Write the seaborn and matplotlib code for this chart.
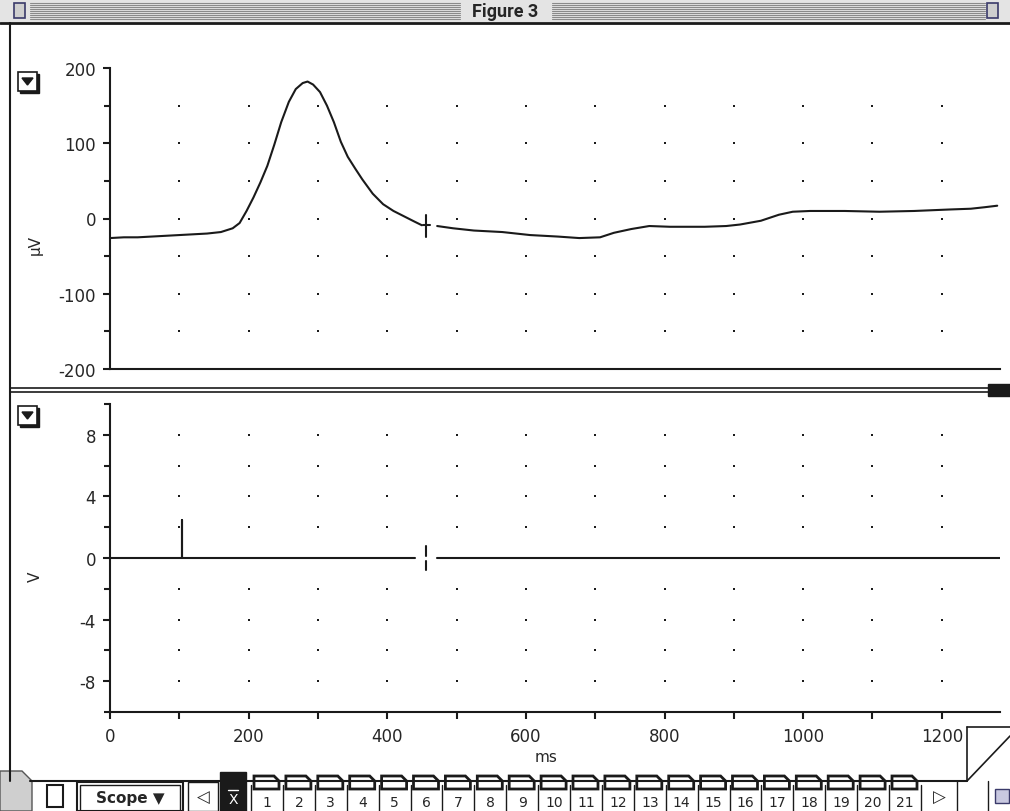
import numpy as np
import pandas as pd
import matplotlib
matplotlib.use("Agg")
import matplotlib.pyplot as plt
import seaborn as sns
from matplotlib.patches import Rectangle, Polygon

# Trace 1: evoked potential (ms, uV); segment 2 starts after the cursor gap
top_ms_1 = [0, 20, 40, 60, 80, 100, 120, 140, 160, 177, 187, 197, 207, 217, 227,
            237, 247, 258, 268, 278, 285, 293, 303, 313, 323, 333, 343, 354, 364,
            379, 394, 409, 424, 439, 450]
top_uv_1 = [-26, -25, -25, -24, -23, -22, -21, -20, -18, -13, -6, 10, 28, 48, 70,
            98, 128, 155, 172, 180, 182, 178, 168, 150, 128, 102, 82, 66, 52,
            33, 19, 10, 3, -4, -9]
top_ms_2 = [472, 495, 525, 566, 606, 646, 677, 707, 727, 752, 778, 808, 858, 889,
            909, 939, 965, 985, 1010, 1060, 1110, 1160, 1212, 1242, 1262, 1280]
top_uv_2 = [-10, -13, -16, -18, -22, -24, -26, -25, -19, -14, -10, -11, -11, -10,
            -8, -3, 5, 9, 10, 10, 9, 10, 12, 13, 15, 17]

# Trace 2: stimulus channel (ms, V)
bot_ms_1 = [0, 104, 104, 104, 440]
bot_v_1 = [0, 0, 2.5, 0, 0]
bot_ms_2 = [472, 1284]
bot_v_2 = [0, 0]

cursor_ms = 456
x_max = 1284
top_yticks = [-200, -100, 0, 100, 200]
bot_yticks = [-8, -4, 0, 4, 8]
x_ticks = [0, 200, 400, 600, 800, 1000, 1200]
tab_labels = [str(i) for i in range(1, 22)]

sns.set_theme(style="ticks")
plt.rcParams['font.family'] = ['DejaVu Sans']
plt.rcParams['axes.unicode_minus'] = False

W, H = 1010, 812
fig = plt.figure(figsize=(W / 100, H / 100), dpi=100)

# window chrome layer, pixel coordinates
bg = fig.add_axes([0, 0, 1, 1])
bg.set_xlim(0, W)
bg.set_ylim(H, 0)
bg.axis('off')

# title bar
bg.add_patch(Rectangle((0, 0), W, 23, color='#e4e4e4', lw=0))
for yy in range(4, 21, 2):
    bg.plot([30, 460], [yy, yy], color='#8a8a8a', lw=0.8)
    bg.plot([552, 985], [yy, yy], color='#8a8a8a', lw=0.8)
bg.add_patch(Rectangle((14, 4), 11, 15, fc='#cfcfcf', ec='#3a3a6a', lw=1.2))
bg.add_patch(Rectangle((987, 4), 11, 15, fc='#cfcfcf', ec='#3a3a6a', lw=1.2))
bg.text(505, 12, "Figure 3", ha='center', va='center', fontsize=13,
        fontweight='bold', family='Roboto')
bg.plot([0, W], [23.5, 23.5], color='k', lw=2)
bg.plot([10, 10], [24, 782], color='k', lw=1.5)

# panel divider
bg.plot([10, 988], [389, 389], color='k', lw=1.2)
bg.plot([10, 988], [393, 393], color='k', lw=1.2)
bg.add_patch(Rectangle((988, 385), 22, 12, color='k'))

# channel menu buttons
for y0 in (73, 407):
    bg.add_patch(Rectangle((20, y0 + 2), 19, 19, color='k'))
    bg.add_patch(Rectangle((18, y0), 19, 19, fc='white', ec='k', lw=1.2))
    bg.add_patch(Polygon([(22, y0 + 6), (33, y0 + 6), (27.5, y0 + 13)], color='k'))

# axis unit labels
bg.text(35, 245, "µV", rotation=90, ha='center', va='center', fontsize=11)
bg.text(35, 577, "V", rotation=90, ha='center', va='center', fontsize=11)
bg.text(546, 758, "ms", ha='center', va='center', fontsize=11)

# page corner
bg.plot([967, 967], [728, 782], color='k', lw=1.2)
bg.plot([967, 1010], [782, 737], color='k', lw=1.2)
bg.plot([967, 1010], [728, 728], color='k', lw=1.2)

# bottom tool bar
bg.plot([30, 967], [782, 782], color='k', lw=1.5)
bg.add_patch(Polygon([(0, 772), (22, 772), (32, 782), (32, 812), (0, 812)],
                     fc='#cfcfcf', ec='#555555', lw=1))
bg.add_patch(Rectangle((47, 786), 16, 22, fc='white', ec='k', lw=1.5))
bg.add_patch(Rectangle((77, 783), 106, 29, fc='white', ec='k', lw=1.5))
bg.add_patch(Rectangle((80, 786), 100, 26, fc='none', ec='k', lw=1))
bg.text(130, 799, "Scope ▼", ha='center', va='center', fontsize=11, fontweight='bold')
bg.add_patch(Rectangle((188, 783), 30, 29, fc='white', ec='k', lw=1))
bg.text(203, 798, "◁", ha='center', va='center', fontsize=12)
bg.add_patch(Rectangle((220, 773), 26, 39, color='k'))
bg.text(233, 800, "X", ha='center', va='center', fontsize=10, color='white')
bg.plot([228, 238], [791, 791], color='white', lw=1)
step = 31.9
for i, lab in enumerate(tab_labels):
    x0 = 251 + step * i
    bg.plot([x0, x0], [786, 812], color='k', lw=1)
    bg.add_patch(Polygon([(x0 + 3, 777), (x0 + 23, 777), (x0 + 28, 782),
                          (x0 + 28, 790), (x0 + 3, 790)],
                         fc='white', ec='k', lw=2))
    bg.text(x0 + 16, 803, lab, ha='center', va='center', fontsize=10)
xe = 251 + step * 21
bg.plot([xe, xe], [786, 812], color='k', lw=1)
bg.text(939, 798, "▷", ha='center', va='center', fontsize=12)
bg.plot([957, 957], [782, 812], color='k', lw=1)
bg.plot([988, 988], [782, 812], color='k', lw=1)
bg.add_patch(Rectangle((995, 790), 14, 14, fc='#c8c8e0', ec='#3a3a6a', lw=1))

# data axes
ax1 = fig.add_axes([110 / W, 1 - 370 / H, 890 / W, 301 / H])
ax2 = fig.add_axes([110 / W, 1 - 713 / H, 890 / W, 308 / H])

top = pd.DataFrame({
    'ms': top_ms_1 + top_ms_2,
    'uV': top_uv_1 + top_uv_2,
    'seg': [0] * len(top_ms_1) + [1] * len(top_ms_2),
})
bot = pd.DataFrame({
    'ms': bot_ms_1 + bot_ms_2,
    'V': bot_v_1 + bot_v_2,
    'seg': [0] * len(bot_ms_1) + [1] * len(bot_ms_2),
})

sns.lineplot(data=top, x='ms', y='uV', units='seg', estimator=None, sort=False,
             color='k', lw=1.5, ax=ax1)
sns.lineplot(data=bot, x='ms', y='V', units='seg', estimator=None, sort=False,
             color='k', lw=1.5, ax=ax2)

# cursor marks
ax1.plot([cursor_ms, cursor_ms], [-25, 4], color='k', lw=1.5)
ax1.plot([cursor_ms - 4, cursor_ms + 6], [-8, -8], color='k', lw=1.5)
ax2.plot([cursor_ms, cursor_ms], [0.15, 0.75], color='k', lw=1.5)
ax2.plot([cursor_ms, cursor_ms], [-0.2, -0.75], color='k', lw=1.5)

# dotted grid at each 100 ms
gx = np.arange(100, 1201, 100)
for ax, ys in ((ax1, np.arange(-150, 151, 50)), (ax2, np.arange(-8, 9, 2))):
    xx, yy = np.meshgrid(gx, ys)
    ax.scatter(xx.ravel(), yy.ravel(), s=2, marker='s', color='k', linewidths=0)

for ax in (ax1, ax2):
    ax.set_facecolor('none')
    ax.set_xlim(0, x_max)
    ax.set_xlabel('')
    ax.set_ylabel('')
    for side in ('top', 'right'):
        ax.spines[side].set_visible(False)
    for side in ('left', 'bottom'):
        ax.spines[side].set_linewidth(1.5)
        ax.spines[side].set_color('k')
    ax.tick_params(axis='y', which='both', direction='out', color='k',
                   width=1.5, labelsize=12, pad=5)
    ax.tick_params(axis='y', which='major', length=5)
    ax.tick_params(axis='y', which='minor', length=4)

ax1.set_ylim(-200, 200)
ax1.set_yticks(top_yticks)
ax1.set_yticks(np.arange(-150, 151, 100), minor=True)
ax1.tick_params(axis='x', which='both', bottom=False, labelbottom=False)

ax2.set_ylim(-10, 10)
ax2.set_yticks(bot_yticks)
ax2.set_yticks(np.arange(-10, 11, 2), minor=True)
ax2.set_xticks(x_ticks)
ax2.set_xticks(np.arange(100, 1201, 200), minor=True)
ax2.tick_params(axis='x', which='both', direction='out', length=5, width=1.5,
                color='k', labelsize=12, pad=6)

fig.savefig("out.png", dpi=100)
